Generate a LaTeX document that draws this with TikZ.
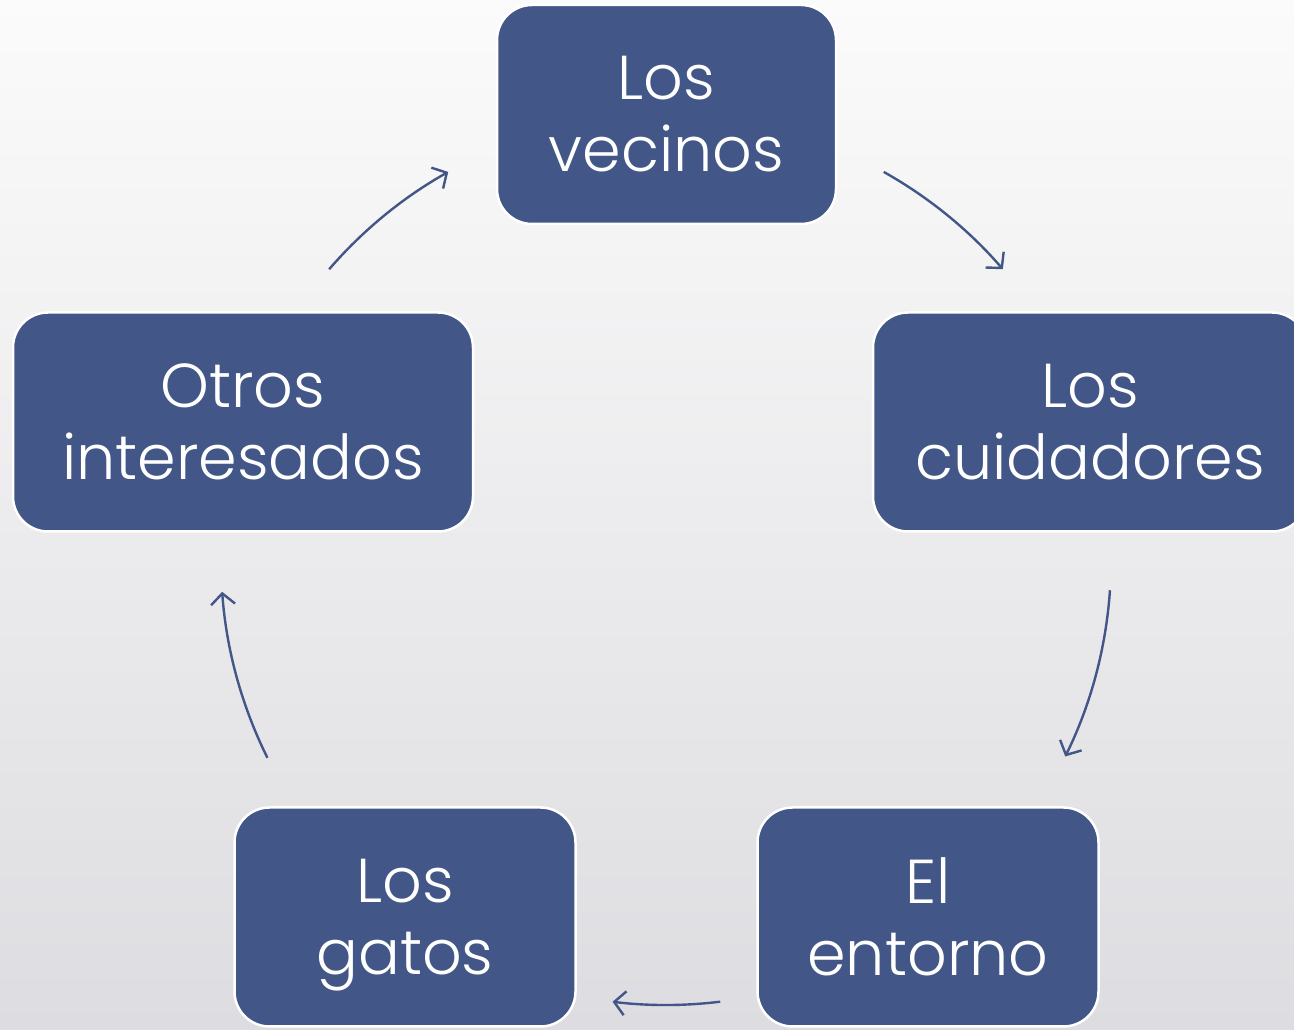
\documentclass[tikz,border=0pt]{standalone}
\usepackage{fontspec}
\setmainfont{Poppins}[UprightFont=* Light]
\usetikzlibrary{arrows.meta}
\definecolor{boxblue}{HTML}{425688}
\definecolor{bgtop}{HTML}{FBFBFB}
\definecolor{bgbot}{HTML}{DDDDE1}
\begin{document}
\begin{tikzpicture}[x=1pt,y=1pt,
  cbox/.style={draw=white, line width=2.5pt, fill=boxblue, rounded corners=35pt,
    text=white, align=center, inner sep=0pt, minimum height=219pt,
    font=\fontsize{62}{72}\selectfont},
  cyc/.style={draw=boxblue, line width=2.4pt, -{Straight Barb[length=11pt,width=24pt,line width=2.4pt]}}]
\useasboundingbox (0,0) rectangle (1294,1030);
\clip (0,0) rectangle (1294,1030);
\shade[top color=bgtop, bottom color=bgbot] (0,0) rectangle (1294,1030);
\coordinate (ctr) at (666,470);
\node[cbox, minimum width=339pt] (vec) at (666.5,915.5) {Los\\vecinos};
\node[cbox, minimum width=434pt] (cui) at (1090,608) {Los\\cuidadores};
\node[cbox, minimum width=341pt] (ent) at (928,113) {El\\entorno};
\node[cbox, minimum width=341pt] (gat) at (405,113) {Los\\\smash{gatos}};
\node[cbox, minimum width=460pt] (otr) at (243,608) {Otros\\interesados};
\draw[cyc] (ctr) ++(60.7:445) arc[start angle=60.7, end angle=40.8, radius=445];
\draw[cyc] (ctr) ++(-3.9:445) arc[start angle=-3.9, end angle=-26.2, radius=445];
\draw[cyc] (ctr) ++(-83:445) arc[start angle=-83, end angle=-96.9, radius=445];
\draw[cyc] (ctr) ++(-153.6:445) arc[start angle=-153.6, end angle=-175.9, radius=445];
\draw[cyc] (ctr) ++(139.2:445) arc[start angle=139.2, end angle=119.3, radius=445];
\end{tikzpicture}
\end{document}
